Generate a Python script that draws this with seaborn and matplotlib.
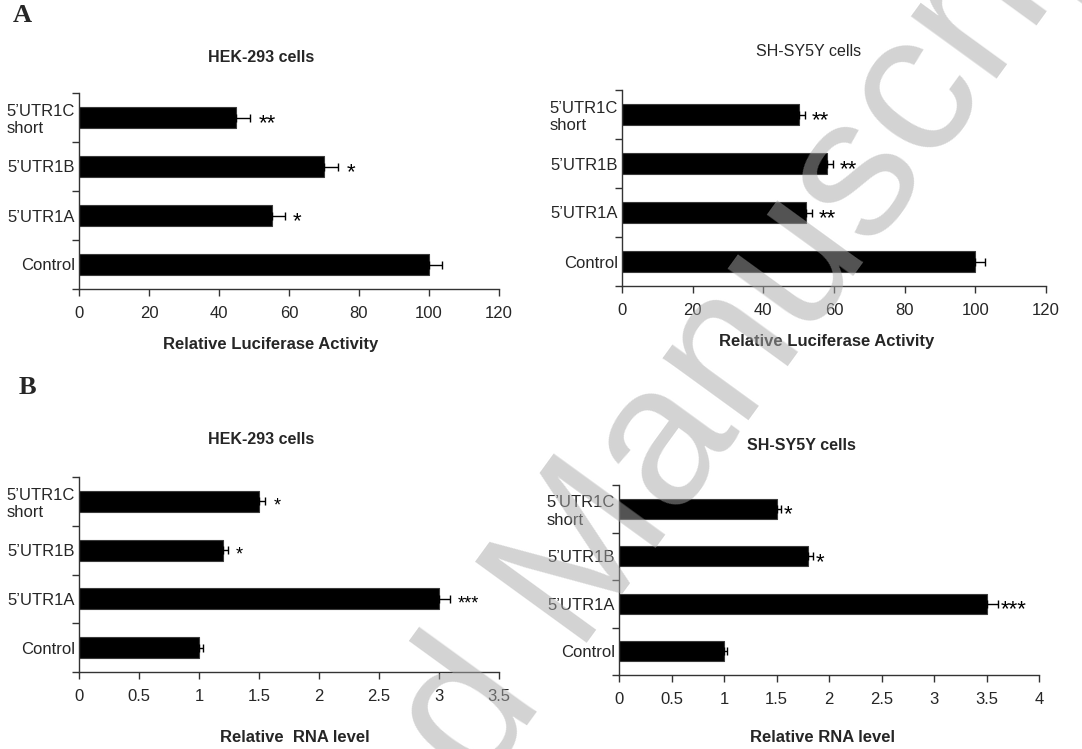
import numpy as np
import pandas as pd
from matplotlib import pyplot as plt
from matplotlib.ticker import FuncFormatter
import seaborn as sns

# constructs, top to bottom as in the figure
constructs = ["5\u2019UTR1C\nshort", "5\u2019UTR1B", "5\u2019UTR1A", "Control"]

# A: relative luciferase activity
hek_luc = [45, 70, 55, 100]
hek_luc_err = [4, 4, 3.8, 3.8]
hek_luc_sig = ["**", "*", "*", ""]

shsy_luc = [50, 58, 52, 100]
shsy_luc_err = [1.7, 1.7, 1.7, 2.8]
shsy_luc_sig = ["**", "**", "**", ""]

# B: relative RNA level
hek_rna = [1.5, 1.2, 3.0, 1.0]
hek_rna_err = [0.05, 0.04, 0.09, 0.03]
hek_rna_sig = ["*", "*", "***", ""]

shsy_rna = [1.5, 1.8, 3.5, 1.0]
shsy_rna_err = [0.04, 0.05, 0.11, 0.03]
shsy_rna_sig = ["*", "*", "***", ""]

W, H = 1082, 749

sns.set_style("white")
plt.rcParams['font.family'] = ['Liberation Sans', 'DejaVu Sans']


def px_axes(fig, left, top, right, bottom):
    return fig.add_axes([left / W, 1 - bottom / H, (right - left) / W, (bottom - top) / H])


def px_text(fig, x, y, s, **kw):
    fig.text(x / W, 1 - y / H, s, ha='center', va='center', **kw)


# Draws one horizontal bar panel with one-sided error bars and stars
def bar_panel(ax, values, errs, sigs, xmax, step, star_dx, star_size):
    df = pd.DataFrame({'construct': constructs, 'value': values})
    sns.barplot(data=df, x='value', y='construct', order=constructs, orient='h',
                color='black', saturation=1, width=0.43, edgecolor='#3a3a3a',
                linewidth=0.8, ax=ax)
    pos = np.arange(len(values))
    ax.errorbar(values, pos, xerr=[np.zeros(len(errs)), errs], fmt='none',
                ecolor='black', elinewidth=1, capsize=2.6, capthick=1)
    for v, e, s, p in zip(values, errs, sigs, pos):
        if s:
            ax.annotate(s, xy=(v + e, p), xytext=(star_dx, -0.27 * star_size),
                        textcoords='offset points', ha='left', va='center',
                        fontsize=star_size, color='black')

    ax.set_xlim(0, xmax)
    ax.set_ylim(3.5, -0.5)
    ax.set_xticks(np.arange(0, xmax + step / 2, step))
    ax.xaxis.set_major_formatter(FuncFormatter(lambda x, _: '%g' % x))
    ax.set_yticks(pos)
    ax.set_yticklabels(constructs, fontsize=12, multialignment='left')
    ax.set_yticks(np.arange(-0.5, 4, 1), minor=True)
    ax.tick_params(axis='y', which='major', length=0, pad=3)
    ax.tick_params(axis='y', which='minor', length=5, width=1, color='#333333', direction='out', left=True)
    ax.tick_params(axis='x', length=5, width=1, color='#333333', direction='out', bottom=True,
                   labelsize=12, pad=7)
    ax.set_xlabel('')
    ax.set_ylabel('')
    for side in ['top', 'right']:
        ax.spines[side].set_visible(False)
    for side in ['left', 'bottom']:
        ax.spines[side].set_color('#333333')
        ax.spines[side].set_linewidth(1)


fig = plt.figure(figsize=(W / 100, H / 100), dpi=100)

ax1 = px_axes(fig, 79, 93, 499, 289)
bar_panel(ax1, hek_luc, hek_luc_err, hek_luc_sig, 120, 20, 6, 16)
ax2 = px_axes(fig, 622, 90, 1046, 286)
bar_panel(ax2, shsy_luc, shsy_luc_err, shsy_luc_sig, 120, 20, 5, 16)
ax3 = px_axes(fig, 79, 477, 499, 672)
bar_panel(ax3, hek_rna, hek_rna_err, hek_rna_sig, 3.5, 0.5, 6, 13)
ax4 = px_axes(fig, 619, 485, 1039, 675)
bar_panel(ax4, shsy_rna, shsy_rna_err, shsy_rna_sig, 4, 0.5, 2, 16)

# titles and axis labels
px_text(fig, 261, 57, "HEK-293 cells", fontsize=11.5, fontweight='bold')
px_text(fig, 809, 52, "SH-SY5Y cells", fontsize=11.5)
px_text(fig, 261, 439, "HEK-293 cells", fontsize=11.5, fontweight='bold')
px_text(fig, 801, 445, "SH-SY5Y cells", fontsize=11.5, fontweight='bold')

px_text(fig, 271, 345, "Relative Luciferase Activity", fontsize=12, fontweight='bold')
px_text(fig, 827, 342, "Relative Luciferase Activity", fontsize=12, fontweight='bold')
px_text(fig, 295, 737, "Relative  RNA level", fontsize=12, fontweight='bold')
px_text(fig, 822, 737, "Relative RNA level", fontsize=12, fontweight='bold')

# panel letters
px_text(fig, 22, 16, "A", fontsize=19, fontweight='bold', family='Liberation Serif')
px_text(fig, 27, 387, "B", fontsize=19, fontweight='bold', family='Liberation Serif')

# watermark
fig.text(562 / W, 1 - 590 / H, "Accepted Manuscript", rotation=54, rotation_mode='anchor',
         ha='center', va='center', fontsize=144, color='#a8a8a8', alpha=0.5, zorder=10)

plt.savefig('out.png', dpi=100)
